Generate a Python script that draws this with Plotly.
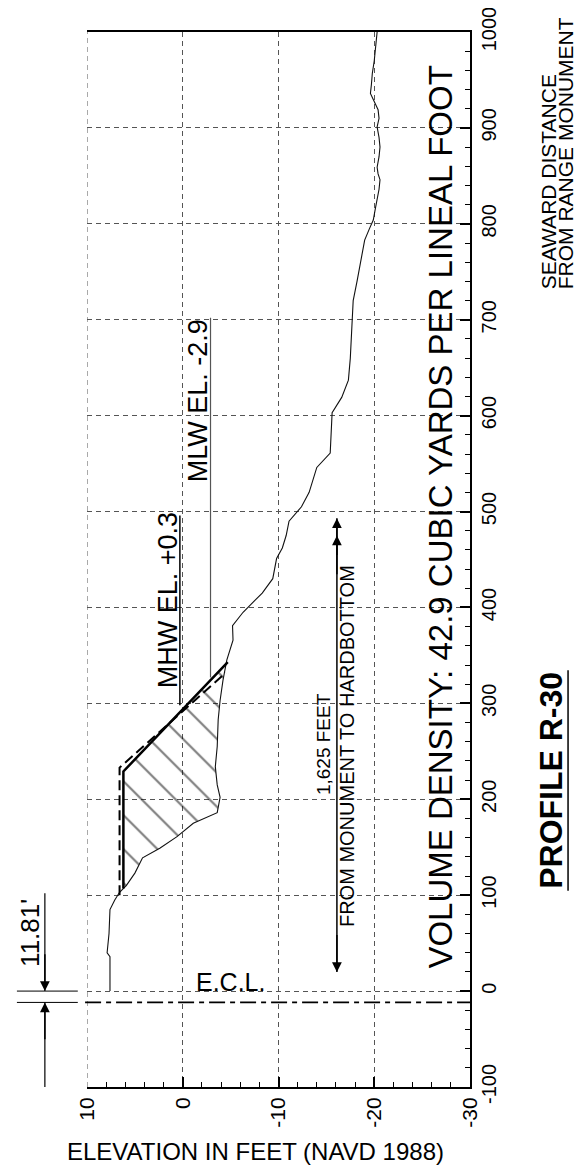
import plotly.graph_objects as go

# ---------------- data (distance in ft seaward of monument, elevation in ft NAVD88) ----------
existing_dist = [0, 30, 36, 40, 60, 85, 95, 103, 110, 123, 139, 149, 161, 175, 186, 202, 215,
                 234, 255, 283, 303, 324, 345, 366, 381, 395, 402, 415, 430, 451, 462, 475, 490,
                 505, 520, 546, 561, 580, 603, 619, 637, 660, 680, 700, 720, 740, 755, 770, 783,
                 795, 804, 815, 825, 836, 846, 852, 859, 870, 880, 890, 901, 910, 919, 928, 936,
                 945, 957, 970, 981, 990, 1000]
existing_elev = [7.6, 7.6, 7.6, 7.9, 7.7, 7.6, 7.1, 6.6, 5.9, 5.0, 4.2, 2.4, 0.6, -1.1, -3.6,
                 -3.9, -3.6, -3.4, -3.6, -3.7, -3.9, -4.2, -4.6, -5.25, -5.2, -6.3, -7.0, -8.3,
                 -9.4, -9.8, -10.4, -10.8, -11.1, -12.4, -13.2, -14.0, -15.4, -15.5, -15.6,
                 -16.6, -17.3, -17.5, -17.6, -17.7, -17.8, -18.2, -18.5, -18.8, -19.0, -19.5,
                 -19.9, -20.1, -20.3, -20.5, -20.6, -20.4, -20.3, -20.5, -20.6, -20.5, -20.3,
                 -20.5, -20.4, -20.0, -19.6, -19.7, -19.8, -20.0, -20.1, -20.2, -20.3]

design_dist = [107, 229, 343]
design_elev = [6.2, 6.2, -4.7]

template_dist = [100, 233, 332]
template_elev = [6.6, 6.6, -4.5]

mhw_elev, mhw_span = 0.3, [298, 496]
mlw_elev, mlw_span = -2.9, [327, 702]
ecl_dist = -11.81
hardbottom_elev, hardbottom_span = -16.1, [20, 493]

elev_ticks = [10, 0, -10, -20, -30]
elev_labels = ["10", "0", "-10", "-20", "-30"]
dist_ticks = [-100, 0, 100, 200, 300, 400, 500, 600, 700, 800, 900, 1000]
dist_labels = ["-100", "0", "100", "200", "300", "400", "500", "600", "700", "800", "900", "1000"]

FONT = "Liberation Sans, Arial, sans-serif"
GRID_DASH = "5px,4px"

fig = go.Figure()

# hatched fill between design template and existing profile
poly_d = list(design_dist)
poly_e = list(design_elev)
for d, e in sorted(zip(existing_dist, existing_elev), reverse=True):
    if design_dist[0] <= d <= design_dist[-1]:
        poly_d.append(d)
        poly_e.append(e)
fig.add_trace(go.Scatter(
    x=poly_e, y=poly_d, mode="lines", line=dict(width=0), fill="toself",
    fillcolor="rgba(0,0,0,0)",
    fillpattern=dict(shape="\\", size=24, solidity=0.09, fgcolor="black",
                     bgcolor="rgba(0,0,0,0)", fillmode="overlay"),
    hoverinfo="skip", showlegend=False))

# existing profile
fig.add_trace(go.Scatter(x=existing_elev, y=existing_dist, mode="lines",
                         line=dict(color="#111", width=1.1), showlegend=False))
# template (dashed) and design (solid)
fig.add_trace(go.Scatter(x=template_elev, y=template_dist, mode="lines",
                         line=dict(color="black", width=2, dash="10px,5px"), showlegend=False))
fig.add_trace(go.Scatter(x=design_elev, y=design_dist, mode="lines",
                         line=dict(color="black", width=2.5), showlegend=False))
# MHW / MLW reference lines
fig.add_trace(go.Scatter(x=[mhw_elev, mhw_elev], y=mhw_span, mode="lines",
                         line=dict(color="black", width=1.5), showlegend=False))
fig.add_trace(go.Scatter(x=[mlw_elev, mlw_elev], y=mlw_span, mode="lines",
                         line=dict(color="#555", width=1.2), showlegend=False))
# hardbottom distance line
fig.add_trace(go.Scatter(x=[hardbottom_elev, hardbottom_elev], y=hardbottom_span, mode="lines",
                         line=dict(color="black", width=1.5), showlegend=False))

shapes = [
    # left-edge grid line
    dict(type="line", xref="x", yref="paper", x0=elev_ticks[0], x1=elev_ticks[0], y0=0, y1=1,
         line=dict(color="#555", width=1, dash=GRID_DASH)),
    # E.C.L. line
    dict(type="line", xref="paper", yref="y", x0=-0.005, x1=1, y0=ecl_dist, y1=ecl_dist,
         line=dict(color="black", width=1.8, dash="16px,5px,5px,5px")),
    # dimension extension lines
    dict(type="line", xref="paper", yref="y", x0=-0.183, x1=-0.024, y0=0, y1=0,
         line=dict(color="black", width=1)),
    dict(type="line", xref="paper", yref="y", x0=-0.183, x1=-0.024, y0=ecl_dist, y1=ecl_dist,
         line=dict(color="black", width=1)),
    dict(type="line", xref="paper", yref="y", x0=-0.11, x1=-0.11, y0=102, y1=0,
         line=dict(color="black", width=1.2)),
    dict(type="line", xref="paper", yref="y", x0=-0.11, x1=-0.11, y0=ecl_dist, y1=-100,
         line=dict(color="black", width=1.2)),
    # underline of profile title
    dict(type="line", xref="paper", yref="paper", x0=1.256, x1=1.256, y0=0.186, y1=0.395,
         line=dict(color="black", width=1.5)),
]

ann = []
def rot(text, x, y, size, xref="x", yref="y", bold=False, yanchor="middle"):
    ann.append(dict(text=("<b>%s</b>" % text) if bold else text, x=x, y=y, xref=xref, yref=yref,
                    textangle=-90, showarrow=False, xanchor="center", yanchor=yanchor,
                    font=dict(family=FONT, size=size, color="black")))

rot("VOLUME DENSITY: 42.9 CUBIC YARDS PER LINEAL FOOT", -26.9, 494, 33)
rot("MHW EL. +0.3", 1.6, 408, 27)
rot("MLW EL. -2.9", -1.6, 615, 27)
rot("1,625 FEET", -14.7, 257, 19)
rot("FROM MONUMENT TO HARDBOTTOM", -17.1, 256, 20)
rot("PROFILE R-30", 1.211, 0.291, 32, xref="paper", yref="paper", bold=True)
rot("SEAWARD DISTANCE", 1.204, 0.754, 21, xref="paper", yref="paper", yanchor="bottom")
rot("FROM RANGE MONUMENT", 1.25, 0.754, 21, xref="paper", yref="paper", yanchor="bottom")
rot("11.81'", -0.149, 0.146, 26, xref="paper", yref="paper")

ann.append(dict(text="E.C.L.", x=-5.0, y=10, xref="x", yref="y", showarrow=False,
                xanchor="center", yanchor="middle",
                font=dict(family=FONT, size=25, color="black")))
ann.append(dict(text="ELEVATION IN FEET (NAVD 1988)", x=0.439, y=-0.061, xref="paper",
                yref="paper", showarrow=False, xanchor="center", yanchor="middle",
                font=dict(family=FONT, size=24, color="black")))

# arrows
arrow_kw = dict(text="", showarrow=True, arrowhead=2, arrowsize=1.3, arrowwidth=1.5,
                arrowcolor="black", axref="pixel", ayref="y")
ann.append(dict(x=hardbottom_elev, y=hardbottom_span[1], ax=0, ay=hardbottom_span[1] - 40,
                xref="x", yref="y", **arrow_kw))
ann.append(dict(x=hardbottom_elev, y=hardbottom_span[1] - 18, ax=0, ay=hardbottom_span[1] - 60,
                xref="x", yref="y", **arrow_kw))
ann.append(dict(x=hardbottom_elev, y=hardbottom_span[0], ax=0, ay=hardbottom_span[0] + 40,
                xref="x", yref="y", **arrow_kw))
ann.append(dict(x=-0.11, y=0, ax=0, ay=40, xref="paper", yref="y", **arrow_kw))
ann.append(dict(x=-0.11, y=ecl_dist, ax=0, ay=ecl_dist - 40, xref="paper", yref="y", **arrow_kw))

# the page body adds an 8px margin, so the figure is sized/offset to compensate
fig.update_layout(
    width=579, height=1166,
    margin=dict(l=79, r=117, t=24, b=87),
    paper_bgcolor="white", plot_bgcolor="white",
    font=dict(family=FONT, color="black"),
    shapes=shapes, annotations=ann,
    xaxis=dict(range=[10, -30], tickvals=elev_ticks, ticktext=elev_labels, tickangle=-90,
               automargin=False, ticklabeloverflow="allow",
               ticks="inside", ticklen=10, tickwidth=1.5, tickcolor="black",
               showline=True, linewidth=2, linecolor="black", mirror=True,
               showgrid=True, gridcolor="#555", gridwidth=1, griddash=GRID_DASH,
               zeroline=False, tickfont=dict(size=21, family=FONT),
               minor=dict(ticks="inside", dtick=2, ticklen=5, tickwidth=1.2,
                          tickcolor="black", showgrid=False)),
    yaxis=dict(range=[-100, 1000], tickvals=dist_ticks, ticktext=dist_labels, tickangle=-90,
               side="right", automargin=False, ticklabeloverflow="allow",
               ticks="inside", ticklen=10, tickwidth=1.5, tickcolor="black",
               showline=True, linewidth=2, linecolor="black", mirror=False,
               showgrid=True, gridcolor="#555", gridwidth=1, griddash=GRID_DASH,
               zeroline=False, tickfont=dict(size=20, family=FONT),
               minor=dict(ticks="inside", dtick=20, ticklen=5, tickwidth=1.2,
                          tickcolor="black", showgrid=False)),
)

fig.write_html("out.html")
